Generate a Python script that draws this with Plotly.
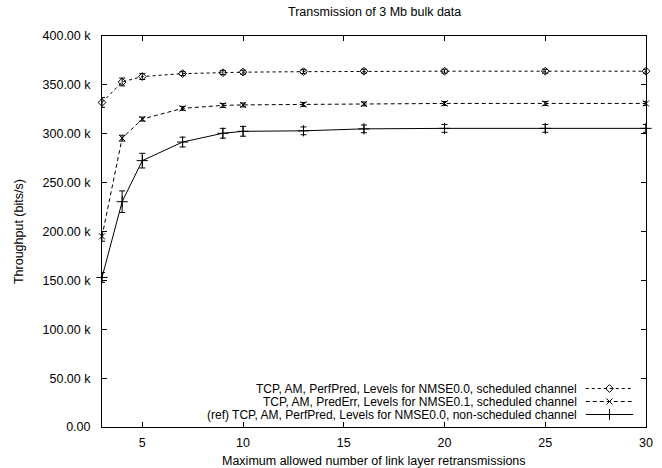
import plotly.graph_objects as go

# ---- data ----
retx = [3, 4, 5, 7, 9, 10, 13, 16, 20, 25, 30]
perfpred_sched = [332.0, 353.0, 358.5, 361.5, 362.5, 363.0, 363.5, 364.0, 364.0, 364.0, 364.0]
perfpred_sched_err = [5, 4, 3, 2, 2, 2, 2, 2, 2, 2, 2]
prederr_sched = [195.0, 295.5, 315.0, 326.0, 329.0, 329.5, 330.0, 330.5, 331.0, 331.0, 331.0]
prederr_sched_err = [5, 3, 2, 2, 2, 2, 2, 2, 2, 2, 2]
ref_nonsched = [153.0, 230.5, 272.5, 291.5, 300.5, 302.5, 303.0, 305.0, 305.5, 305.5, 305.5]
ref_nonsched_err = [5, 11, 7.5, 5, 5, 5, 4, 4, 4, 4, 4]

series_names = [
    "TCP, AM, PerfPred, Levels for NMSE0.0, scheduled channel",
    "TCP, AM, PredErr, Levels for NMSE0.1, scheduled channel",
    "(ref) TCP, AM, PerfPred, Levels for NMSE0.0, non-scheduled channel",
]
y_tickvals = [0, 50000, 100000, 150000, 200000, 250000, 300000, 350000, 400000]
y_ticktext = ["0.00", "50.00 k", "100.00 k", "150.00 k", "200.00 k",
              "250.00 k", "300.00 k", "350.00 k", "400.00 k"]
x_tickvals = [5, 10, 15, 20, 25, 30]

FONT = "Liberation Sans, Arial, Helvetica, sans-serif"
FS = 12.5
W, H = 662, 468
L, R, T, B = 102, 653, 36, 427


def px(x):
    return (x - L) / (R - L)


def py(y):
    return (B - y) / (B - T)


styles = [
    dict(dash="dot", symbol="diamond-open", size=6),
    dict(dash="4px,3px", symbol="x-thin-open", size=6),
    dict(dash="solid", symbol="cross-thin-open", size=8),
]
vals = [perfpred_sched, prederr_sched, ref_nonsched]
errs = [perfpred_sched_err, prederr_sched_err, ref_nonsched_err]

fig = go.Figure()
for name, v, e, st in zip(series_names, vals, errs, styles):
    fig.add_trace(go.Scatter(
        x=retx, y=[a * 1000 for a in v],
        mode="lines+markers", name=name, showlegend=False,
        line=dict(color="black", width=1, dash=st["dash"]),
        marker=dict(symbol=st["symbol"], size=st["size"], color="black",
                    line=dict(color="black", width=1)),
        error_y=dict(type="data", array=[a * 1000 for a in e], color="black",
                     thickness=1, width=3),
        cliponaxis=False,
    ))

# ---- custom gnuplot-style legend (text right, sample on the right) ----
leg_y = [388.5, 401.5, 414.5]
for name, ly, st in zip(series_names, leg_y, styles):
    fig.add_trace(go.Scatter(
        x=[592, 640], y=[ly, ly], xaxis="x2", yaxis="y2", mode="lines",
        line=dict(color="black", width=1, dash=st["dash"]), showlegend=False,
        hoverinfo="skip"))
    fig.add_trace(go.Scatter(
        x=[616], y=[ly], xaxis="x2", yaxis="y2", mode="markers",
        marker=dict(symbol=st["symbol"], size=st["size"], color="black",
                    line=dict(color="black", width=1)),
        showlegend=False, hoverinfo="skip"))
    fig.add_annotation(x=px(585), y=py(ly), xref="paper", yref="paper", text=name,
                       showarrow=False, xanchor="right", yanchor="middle",
                       font=dict(family=FONT, size=12, color="black"))

axis_common = dict(showline=True, linecolor="black", linewidth=1, mirror="ticks",
                   ticks="inside", ticklen=5, tickcolor="black", tickwidth=1,
                   showgrid=False, zeroline=False,
                   tickfont=dict(family=FONT, size=FS, color="black"))

fig.update_layout(
    width=W, height=H,
    margin=dict(l=L, r=W - R, t=T, b=H - B, pad=0),
    plot_bgcolor="white", paper_bgcolor="white",
    showlegend=False,
    xaxis=dict(range=[3, 30], tickvals=x_tickvals, ticklabelstandoff=4, **axis_common),
    yaxis=dict(range=[0, 400000], tickvals=y_tickvals, ticktext=y_ticktext,
               ticklabelstandoff=8, **axis_common),
    xaxis2=dict(range=[L, R], overlaying="x", visible=False, fixedrange=True),
    yaxis2=dict(range=[B, T], overlaying="y", visible=False, fixedrange=True),
    font=dict(family=FONT, size=FS, color="black"),
)

fig.add_annotation(x=px((L + R) / 2), y=py(12), xref="paper", yref="paper",
                   text="Transmission of 3 Mb bulk data", showarrow=False,
                   xanchor="center", yanchor="middle",
                   font=dict(family=FONT, size=FS, color="black"))
fig.add_annotation(x=px((L + R) / 2), y=py(461), xref="paper", yref="paper",
                   text="Maximum allowed number of link layer retransmissions",
                   showarrow=False, xanchor="center", yanchor="middle",
                   font=dict(family=FONT, size=FS, color="black"))
fig.add_annotation(x=px(18), y=py(232), xref="paper", yref="paper",
                   text="Throughput (bits/s)", textangle=-90, showarrow=False,
                   xanchor="center", yanchor="middle",
                   font=dict(family=FONT, size=FS, color="black"))

fig.write_html("out.html")
